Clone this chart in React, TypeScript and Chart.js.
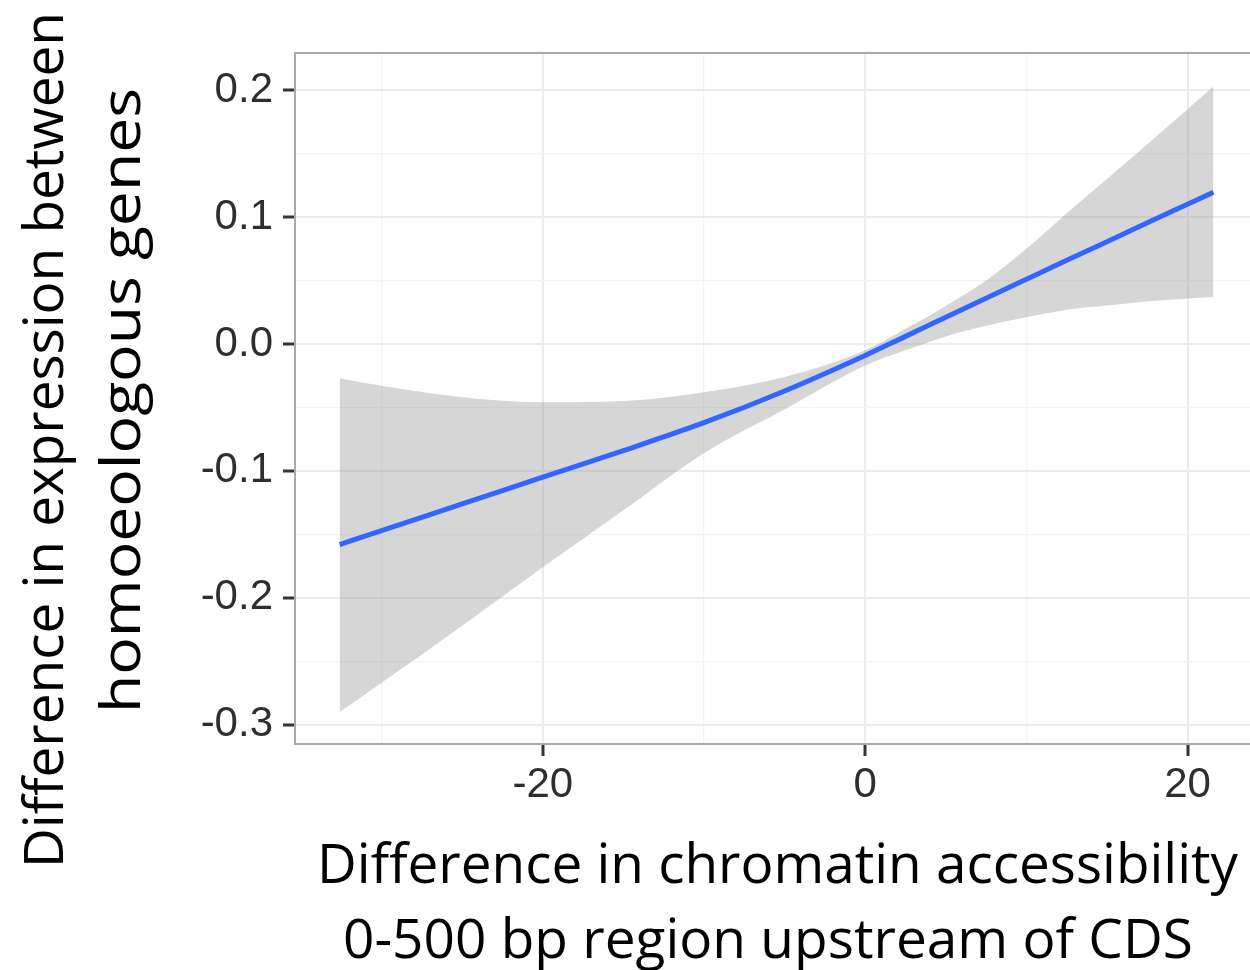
import React, { useEffect, useRef } from "react";
import { Chart, registerables } from "chart.js";

Chart.register(...registerables);

// ---- data ----
const X_VALUES = [-32.6, -30, -25, -20, -15, -10, -5, 0, 2.5, 5, 7.5, 10, 12.5, 15, 18, 21.6];
const FIT = [-0.158, -0.147, -0.126, -0.105, -0.084, -0.062, -0.037, -0.009, 0.006, 0.021, 0.036, 0.051, 0.066, 0.0805, 0.0985, 0.1195];
const UPPER = [-0.027, -0.033, -0.042, -0.046, -0.045, -0.038, -0.026, -0.005, 0.012, 0.03, 0.05, 0.075, 0.103, 0.13, 0.163, 0.203];
const LOWER = [-0.29, -0.267, -0.222, -0.176, -0.131, -0.086, -0.0515, -0.017, -0.005, 0.006, 0.0143, 0.021, 0.027, 0.0303, 0.034, 0.037];

const X_MAJOR = [-20, 0, 20];
const X_MINOR = [-30, -10, 10];
const Y_MAJOR = [-0.3, -0.2, -0.1, 0, 0.1, 0.2];
const Y_MINOR = [-0.25, -0.15, -0.05, 0.05, 0.15];

const X_MIN = -35.37;
const X_MAX = 23.87;
const Y_MIN = -0.3152;
const Y_MAX = 0.2293;

const X_TITLE = ["Difference in chromatin accessibility", "0-500 bp region upstream of CDS"];
const Y_TITLE = ["Difference in expression between", "homoeologous genes"];

const BORDER = "#a9a9a9";
const GRID_MAJOR = "#ebebeb";
const GRID_MINOR = "#f4f4f4";
const TICK_COLOR = "#333333";
const LABEL_COLOR = "#2e2e2e";
const TITLE_FONT = '55px "Open Sans"';

const isIn = (arr: number[], v: number) => arr.some((a) => Math.abs(a - v) < 1e-9);

function fittedText(
  ctx: CanvasRenderingContext2D,
  text: string,
  x: number,
  y: number,
  width: number,
  rotate: boolean
) {
  ctx.save();
  ctx.translate(x, y);
  if (rotate) ctx.rotate(-Math.PI / 2);
  const w = ctx.measureText(text).width;
  ctx.scale(width / w, 1);
  ctx.fillText(text, 0, 0);
  ctx.restore();
}

const panelPlugin = {
  id: "panelTopBorder",
  afterDatasetsDraw(chart: any) {
    const { ctx, chartArea } = chart;
    ctx.save();
    ctx.strokeStyle = BORDER;
    ctx.lineWidth = 2;
    ctx.beginPath();
    ctx.moveTo(chartArea.left - 1, chartArea.top);
    ctx.lineTo(chartArea.right, chartArea.top);
    ctx.stroke();
    ctx.restore();
  },
};

const titlePlugin = {
  id: "axisTitles",
  afterDraw(chart: any) {
    const { ctx } = chart;
    ctx.save();
    ctx.font = TITLE_FONT;
    ctx.fillStyle = "#000000";
    ctx.textAlign = "left";
    ctx.textBaseline = "alphabetic";
    fittedText(ctx, X_TITLE[0], 317, 883, 921, false);
    fittedText(ctx, X_TITLE[1], 343, 958, 850, false);
    fittedText(ctx, Y_TITLE[0], 63, 868, 856, true);
    fittedText(ctx, Y_TITLE[1], 140, 713, 625, true);
    ctx.restore();
  },
};

export default function App() {
  const ref = useRef<HTMLCanvasElement | null>(null);

  useEffect(() => {
    if (!ref.current) return;
    const pts = (ys: number[]) => X_VALUES.map((x, i) => ({ x, y: ys[i] }));
    const tickFont = { family: '"Liberation Sans", Arial, sans-serif', size: 42 };

    const chart = new Chart(ref.current, {
      type: "line",
      data: {
        datasets: [
          {
            label: "fit",
            data: pts(FIT),
            borderColor: "#3366FF",
            borderWidth: 5,
            pointRadius: 0,
            fill: false,
            cubicInterpolationMode: "monotone",
          },
          {
            label: "upper",
            data: pts(UPPER),
            borderColor: "transparent",
            borderWidth: 0,
            pointRadius: 0,
            backgroundColor: "rgba(153,153,153,0.4)",
            fill: "+1",
            cubicInterpolationMode: "monotone",
          },
          {
            label: "lower",
            data: pts(LOWER),
            borderColor: "transparent",
            borderWidth: 0,
            pointRadius: 0,
            fill: false,
            cubicInterpolationMode: "monotone",
          },
        ],
      },
      options: {
        responsive: false,
        animation: false,
        devicePixelRatio: 1,
        layout: { padding: { top: 53, left: 0, right: 0, bottom: 0 } },
        plugins: {
          legend: { display: false },
          tooltip: { enabled: false },
        },
        scales: {
          x: {
            type: "linear",
            min: X_MIN,
            max: X_MAX,
            afterBuildTicks: (axis: any) => {
              axis.ticks = [...X_MAJOR, ...X_MINOR].sort((a, b) => a - b).map((v) => ({ value: v }));
            },
            afterFit: (axis: any) => {
              axis.height = 226;
            },
            ticks: {
              autoSkip: false,
              maxRotation: 0,
              padding: 4,
              color: LABEL_COLOR,
              font: tickFont,
              callback: (v: any) => (isIn(X_MAJOR, Number(v)) ? String(v) : ""),
            },
            grid: {
              color: (c: any) => (isIn(X_MAJOR, c.tick.value) ? GRID_MAJOR : GRID_MINOR),
              lineWidth: (c: any) => (isIn(X_MAJOR, c.tick.value) ? 2 : 1.3),
              tickColor: (c: any) => (isIn(X_MAJOR, c.tick.value) ? TICK_COLOR : "transparent"),
              tickLength: 12,
              tickWidth: 3,
              drawTicks: true,
            },
            border: { display: true, color: BORDER, width: 2 },
          },
          y: {
            type: "linear",
            min: Y_MIN,
            max: Y_MAX,
            afterBuildTicks: (axis: any) => {
              axis.ticks = [...Y_MAJOR, ...Y_MINOR].sort((a, b) => a - b).map((v) => ({ value: v }));
            },
            afterFit: (axis: any) => {
              axis.width = 295;
            },
            ticks: {
              autoSkip: false,
              padding: 10,
              color: LABEL_COLOR,
              font: tickFont,
              callback: (v: any) => (isIn(Y_MAJOR, Number(v)) ? Number(v).toFixed(1) : ""),
            },
            grid: {
              color: (c: any) => (isIn(Y_MAJOR, c.tick.value) ? GRID_MAJOR : GRID_MINOR),
              lineWidth: (c: any) => (isIn(Y_MAJOR, c.tick.value) ? 2 : 1.3),
              tickColor: (c: any) => (isIn(Y_MAJOR, c.tick.value) ? TICK_COLOR : "transparent"),
              tickLength: 12,
              tickWidth: 3,
              drawTicks: true,
            },
            border: { display: true, color: BORDER, width: 2 },
          },
        },
      },
      plugins: [panelPlugin, titlePlugin],
    } as any);

    return () => chart.destroy();
  }, []);

  return (
    <div style={{ position: "fixed", left: 0, top: 0, width: 1250, height: 970, background: "#fff" }}>
      <canvas ref={ref} width={1250} height={970} style={{ display: "block" }} />
    </div>
  );
}
